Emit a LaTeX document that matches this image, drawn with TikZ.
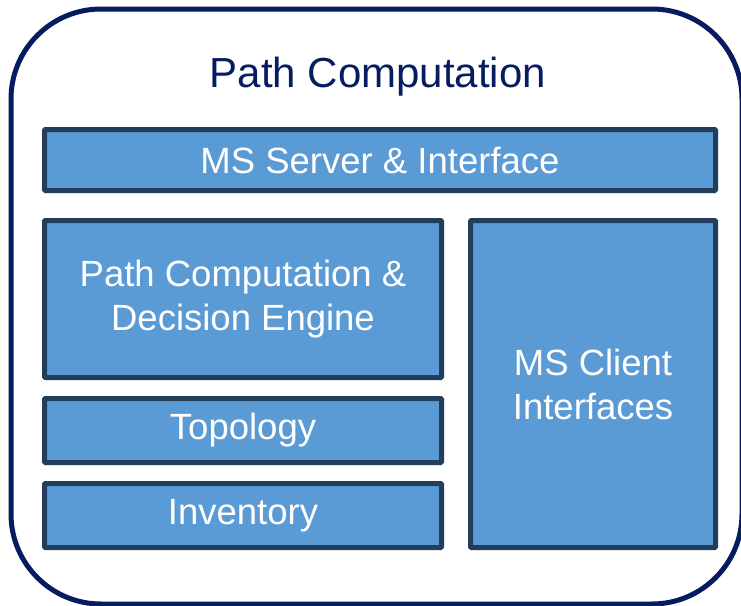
\documentclass[tikz,border=0pt]{standalone}
\usepackage{fontspec}
\setmainfont{Liberation Sans}
\usepackage{xcolor}
\definecolor{navy}{RGB}{6,28,96}
\definecolor{boxfill}{RGB}{91,155,213}
\definecolor{boxline}{RGB}{35,62,92}
\tikzset{
  block/.style={draw=boxline, fill=boxfill, line width=5pt, text=white,
    font=\fontsize{36.5}{44}\selectfont, align=center, inner sep=0pt, rounded corners=1pt}
}

\begin{document}
\begin{tikzpicture}[x=1pt, y=-1pt]
  \useasboundingbox (0,0) rectangle (741,605);
  % Outer frame
  \draw[navy, line width=5pt, rounded corners=90pt] (11,9) rectangle (742,604);
  \node[navy, font=\fontsize{42}{48}\selectfont] (title) at (378,77) {Path Computation};
  % Top layer
  \node[block, minimum width=671pt, minimum height=61pt] (server) at (380,160) {MS Server \& Interface};
  % Left column
  \node[block, minimum width=397pt, minimum height=157pt] (engine) at (243,299) {Path Computation \&\\Decision Engine};
  \node[block, minimum width=397pt, minimum height=64pt] (topology) at (243,430.5) {Topology};
  \node[block, minimum width=397pt, minimum height=64pt] (inventory) at (243,515.5) {Inventory};
  % Right column
  \node[block, minimum width=245pt, minimum height=327pt] (client) at (593,384) {MS Client\\Interfaces};
\end{tikzpicture}
\end{document}
